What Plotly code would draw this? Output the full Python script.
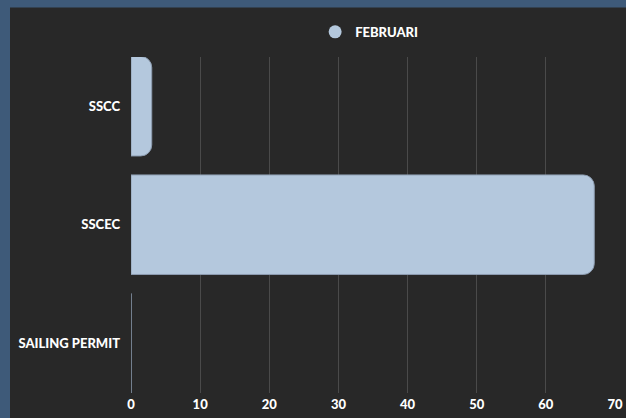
import plotly.graph_objects as go

categories = ["SSCC", "SSCEC", "SAILING PERMIT"]
februari = [3, 67, 0]
series_name = "FEBRUARI"
x_ticks = [0, 10, 20, 30, 40, 50, 60, 70]

BAR = "#b4c8dd"
DARK = "#282828"
BLUE = "#3e5a79"
GRID = "#4a4a4a"
FONT = "Lato"

fig = go.Figure()
fig.add_trace(go.Bar(
    y=categories, x=februari, orientation="h",
    marker=dict(color=BAR, line=dict(color="#8c9cb0", width=1)),
    width=0.84, showlegend=False, name=series_name,
))
fig.add_trace(go.Scatter(
    x=[None], y=[None], mode="markers", name=series_name,
    marker=dict(symbol="circle", size=13, color=BAR),
))

# dark panel over blue page background
fig.add_shape(type="rect", xref="paper", yref="paper",
              x0=-0.25, x1=1.2, y0=-0.3, y1=1.147,
              fillcolor=DARK, line=dict(width=0), layer="below")

tick_font = dict(family=FONT, size=13, color="white", weight=900)

fig.update_layout(
    width=626, height=418,
    margin=dict(l=131, r=11, t=57, b=25, autoexpand=False),
    paper_bgcolor=BLUE, plot_bgcolor="rgba(0,0,0,0)",
    barcornerradius=11,
    font=dict(family=FONT, color="white", size=13, weight=900),
    legend=dict(orientation="h", x=0.492, xanchor="center", y=1.03, yanchor="bottom",
                font=tick_font, bgcolor="rgba(0,0,0,0)"),
    xaxis=dict(range=[0, 70], tickvals=x_ticks, showgrid=True, gridcolor=GRID,
               gridwidth=1, zeroline=False, showline=False, automargin=False,
               tickfont=tick_font, ticklabelstandoff=2),
    yaxis=dict(categoryorder="array", categoryarray=categories,
               range=[2.42, -0.415], showgrid=False, zeroline=False, showline=False,
               automargin=False, tickfont=tick_font, ticklabelstandoff=10),
)

fig.write_html(
    "out.html",
    config={"displayModeBar": False},
    post_script="document.body.style.margin='0';document.body.style.background='%s';" % BLUE,
)
